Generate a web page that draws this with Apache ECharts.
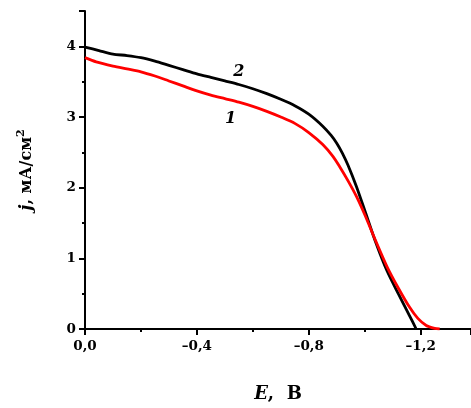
<!DOCTYPE html>
<html>
<head>
<meta charset="utf-8">
<script src="https://cdn.jsdelivr.net/npm/echarts@6/dist/echarts.min.js"></script>
<style>html,body{margin:0;padding:0;background:#fff}#c{width:471px;height:408px}</style>
</head>
<body>
<div id="c"></div>
<script>
// Potential magnitude |E| (V); the axis shows E = -|E|
const potential2 = [0, 0.05, 0.10, 0.15, 0.20, 0.25, 0.30, 0.35, 0.40, 0.45, 0.50, 0.55, 0.60, 0.65, 0.70, 0.75, 0.80, 0.85, 0.88, 0.90, 0.92, 0.94, 0.97, 1.00, 1.04, 1.08, 1.12, 1.16, 1.184];
const current2   = [3.99, 3.94, 3.89, 3.87, 3.84, 3.79, 3.73, 3.67, 3.61, 3.56, 3.51, 3.46, 3.40, 3.33, 3.25, 3.16, 3.04, 2.87, 2.74, 2.63, 2.49, 2.32, 2.02, 1.68, 1.22, 0.82, 0.50, 0.19, 0.0];
const potential1 = [0, 0.04, 0.10, 0.15, 0.20, 0.25, 0.30, 0.35, 0.40, 0.45, 0.50, 0.55, 0.60, 0.65, 0.70, 0.75, 0.80, 0.85, 0.887, 0.91, 0.94, 0.97, 1.00, 1.04, 1.08, 1.12, 1.16, 1.19, 1.22, 1.25, 1.268];
const current1   = [3.84, 3.78, 3.72, 3.68, 3.64, 3.58, 3.51, 3.44, 3.37, 3.31, 3.26, 3.21, 3.15, 3.08, 3.00, 2.91, 2.78, 2.61, 2.44, 2.30, 2.10, 1.88, 1.62, 1.24, 0.88, 0.58, 0.31, 0.15, 0.05, 0.01, 0.0];
const curveLabels = [{text: '2', e: 0.55, j: 3.64}, {text: '1', e: 0.52, j: 2.97}];

const font = 'DejaVu Serif';
const chart = echarts.init(document.getElementById('c'));
const pairs = (xs, ys) => xs.map((x, i) => [x, ys[i]]);
chart.setOption({
  animation: false,
  grid: {left: 85, right: 0, top: 11, bottom: 78, containLabel: false},
  xAxis: {
    type: 'value', min: 0, max: 1.38, interval: 0.4,
    axisLine: {show: true, lineStyle: {color: '#000', width: 2}},
    axisTick: {show: true, inside: false, length: 6, lineStyle: {color: '#000', width: 2}},
    minorTick: {show: true, splitNumber: 2, length: 3, lineStyle: {color: '#000', width: 2}},
    splitLine: {show: false},
    axisLabel: {
      margin: 10, color: '#000', fontFamily: font, fontWeight: 'bold', fontSize: 13.5,
      showMaxLabel: false,
      formatter: v => (Math.abs(v) < 1e-9 ? '' : '\u2013') + Math.abs(v).toFixed(1).replace('.', ',')
    },
    name: '{i|E},  В', nameLocation: 'middle', nameGap: 56,
    nameTextStyle: {color: '#000', fontFamily: font, fontWeight: 'bold', fontSize: 18,
      rich: {i: {fontFamily: font, fontWeight: 'bold', fontStyle: 'italic', fontSize: 18, color: '#000'}}}
  },
  yAxis: {
    type: 'value', min: 0, max: 4.5, interval: 1,
    axisLine: {show: true, lineStyle: {color: '#000', width: 2}},
    axisTick: {show: true, inside: false, length: 6, lineStyle: {color: '#000', width: 2}},
    minorTick: {show: true, splitNumber: 2, length: 3, lineStyle: {color: '#000', width: 2}},
    splitLine: {show: false},
    axisLabel: {margin: 9, color: '#000', fontFamily: font, fontWeight: 'bold', fontSize: 13.5,
      formatter: v => (Number.isInteger(v) ? String(v) : '')},
    name: '{i|j}, мА/см{s|2}', nameLocation: 'middle', nameGap: 48, nameRotate: 90,
    nameTextStyle: {color: '#000', fontFamily: font, fontWeight: 'bold', fontSize: 16,
      rich: {
        i: {fontFamily: font, fontWeight: 'bold', fontStyle: 'italic', fontSize: 17, color: '#000'},
        s: {fontFamily: font, fontWeight: 'bold', fontSize: 11, color: '#000', padding: [0, 0, 10, 0]}
      }}
  },
  series: [
    {type: 'line', data: pairs(potential2, current2), showSymbol: false, smooth: 0.25,
      lineStyle: {color: '#000', width: 2.8}, z: 3},
    {type: 'line', data: pairs(potential1, current1), showSymbol: false, smooth: 0.25,
      lineStyle: {color: '#ff0000', width: 2.8}, z: 4},
    {type: 'scatter', symbolSize: 0, silent: true, itemStyle: {opacity: 1},
      data: curveLabels.map(c => ({value: [c.e, c.j], name: c.text})),
      label: {show: true, position: 'inside', formatter: p => p.name, color: '#000', opacity: 1,
        fontFamily: font, fontWeight: 'bold', fontStyle: 'italic', fontSize: 16}}
  ]
});
</script>
</body>
</html>
